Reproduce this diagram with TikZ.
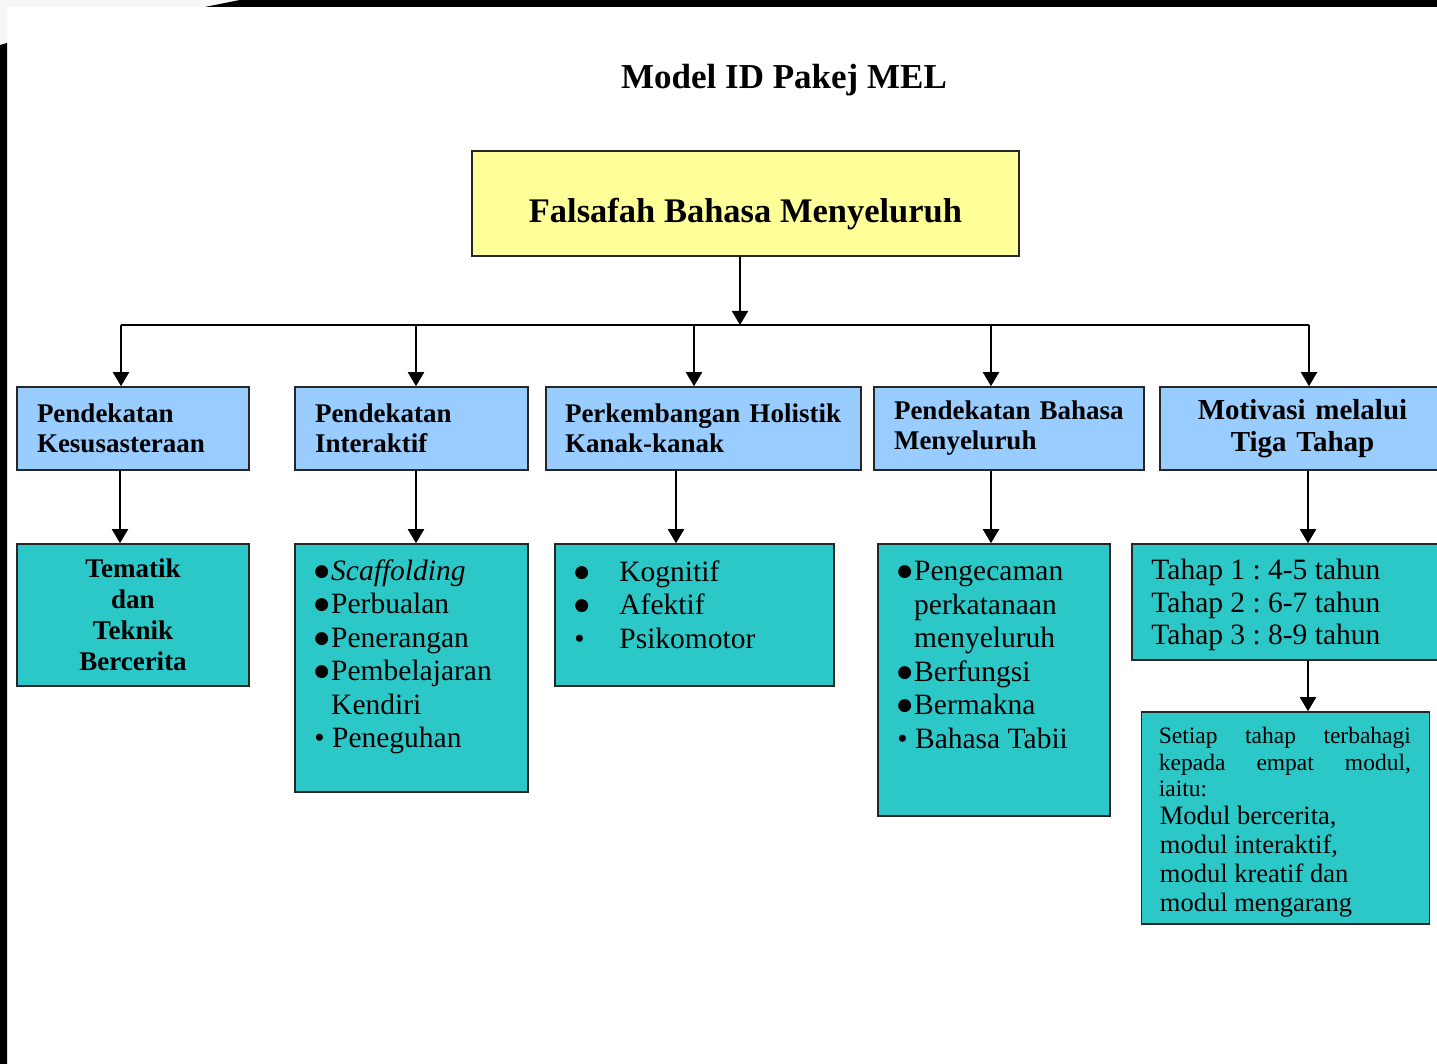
\documentclass[tikz,border=0pt]{standalone}
\usepackage{fontspec}
\setmainfont{Liberation Serif}
\newfontfamily\simbol{DejaVu Sans}
\usepackage{tikz}
\usetikzlibrary{arrows.meta,positioning}
\frenchspacing

\definecolor{kuning}{HTML}{FFFF99}
\definecolor{biru}{HTML}{99CCFF}
\definecolor{hijau}{HTML}{2CC8C8}

\newcommand{\titik}{\raisebox{4pt}{\simbol\fontsize{17}{17}\selectfont ●}\hspace{2pt}}

\begin{document}
\begin{tikzpicture}[x=1pt, y=-1pt,
            kotak/.style={draw=black!85, line width=1.6pt, inner sep=0pt},
            akar/.style={kotak, fill=kuning, font=\fontsize{34.5}{38}\selectfont\bfseries},
            cabang/.style={kotak, fill=biru, minimum height=83pt, inner xsep=20pt,
                           align=left, font=\fontsize{27}{30}\selectfont\bfseries},
            daun/.style={kotak, fill=hijau},
            isi/.style={inner sep=0pt, align=left, font=\fontsize{29.5}{33.5}\selectfont},
            panah/.style={draw, line width=2pt, -{Triangle[width=16pt,length=14pt]}}]
        \useasboundingbox (0,0) rectangle (1437,1064);
        \fill[white] (0,0) rectangle (1437,1064);
        \fill[black!3] (0,0) rectangle (240,7) (0,0) rectangle (7,45);
        \fill[black] (0,45) -- (7,43) -- (7,1064) -- (0,1064) -- cycle;
        \fill[black] (205,7) -- (240,0) -- (1437,0) -- (1437,7) -- cycle;

        \node[font=\fontsize{35}{38}\selectfont\bfseries] (judul) at (784,80) {Model ID Pakej MEL};
        \node[akar, minimum width=547pt, minimum height=105pt] (root) at (745.5,203.5)
            {\raisebox{-19pt}[0pt][0pt]{Falsafah Bahasa Menyeluruh}};

        % peringkat kedua
        \node[cabang, text width=192pt] (k1) at (133,428.5) {Pendekatan\\Kesusasteraan};
        \node[cabang, text width=193pt] (k2) at (411.5,428.5) {Pendekatan\\Interaktif};
        \node[cabang, text width=277pt, inner xsep=19pt] (k3) at (703.5,428.5) {Perkembangan Holistik\\Kanak-kanak};
        \node[cabang, text width=230pt] (k4) at (1009,428.5) {Pendekatan Bahasa\\Menyeluruh};
        \node[cabang, text width=245pt, align=center, font=\fontsize{29}{32}\selectfont\bfseries] (k5) at (1302.5,428.5) {Motivasi melalui\\Tiga Tahap};

        % peringkat ketiga
        \node[daun, minimum width=232pt, minimum height=142pt, align=center,
              font=\fontsize{27}{31}\selectfont\bfseries] (d1) at (133,615) {Tematik\\dan\\Teknik\\Bercerita};
        \node[daun, minimum width=233pt, minimum height=248pt] (d2) at (411.5,668) {};
        \node[daun, minimum width=279pt, minimum height=142pt] (d3) at (694.5,615) {};
        \node[daun, minimum width=232pt, minimum height=272pt] (d4) at (994,680) {};
        \node[daun, minimum width=313pt, minimum height=116pt] (d5) at (1288.5,602) {};
        \node[daun, minimum width=288pt, minimum height=212pt] (d6) at (1285.5,818) {};

        \node[isi, below right=16pt and 20pt of d2.north west] (s2) {\titik\textit{Scaffolding}\\
            \titik Perbualan\\ \titik Penerangan\\ \titik Pembelajaran\\
            \phantom{\titik}Kendiri\\ \textbullet\ Peneguhan};
        \node[isi, below right=17pt and 20pt of d3.north west] (s3) {\makebox[45pt][l]{\titik}Kognitif\\
            \makebox[45pt][l]{\titik}Afektif\\ \makebox[45pt][l]{\textbullet}Psikomotor};
        \node[isi, below right=18pt and 20pt of d4.north west] (s4) {\titik Pengecaman\\
            \phantom{\titik}perkatanaan\\ \phantom{\titik}menyeluruh\\ \titik Berfungsi\\
            \titik Bermakna\\ \textbullet\ Bahasa Tabii};
        \node[isi, font=\fontsize{29.5}{32.5}\selectfont, below right=16pt and 20pt of d5.north west] (s5)
            {Tahap 1 : 4-5 tahun\\ Tahap 2 : 6-7 tahun\\ Tahap 3 : 8-9 tahun};
        \node[isi, font=\fontsize{23.5}{26.5}\selectfont, below right=16pt and 18pt of d6.north west] (s6a)
            {\makebox[252pt][s]{Setiap tahap terbahagi}\\ \makebox[252pt][s]{kepada empat modul,}\\ iaitu:};
        \node[isi, font=\fontsize{26.5}{29}\selectfont, below right=95pt and 19pt of d6.north west] (s6b)
            {Modul bercerita,\\ modul interaktif,\\ modul kreatif dan\\ modul mengarang};

        % penyambung
        \coordinate (bus) at (740,325);
        \coordinate (b1) at (121,325);
        \coordinate (b2) at (416,325);
        \coordinate (b3) at (694,325);
        \coordinate (b4) at (991,325);
        \coordinate (b5) at (1309,325);
        \draw[panah] (root.south -| bus) -- (bus);
        \draw[line width=2pt] (b1) -- (b5);
        \foreach \i in {1,...,5}
            \draw[panah] (b\i) -- (b\i |- k\i.north);

        \coordinate (c1) at (120,0);
        \coordinate (c2) at (416,0);
        \coordinate (c3) at (676,0);
        \coordinate (c4) at (991,0);
        \coordinate (c5) at (1308,0);
        \foreach \i in {1,...,5}
            \draw[panah] (k\i.south -| c\i) -- (d\i.north -| c\i);
        \draw[panah] (d5.south -| c5) -- (d6.north -| c5);
\end{tikzpicture}
\end{document}
